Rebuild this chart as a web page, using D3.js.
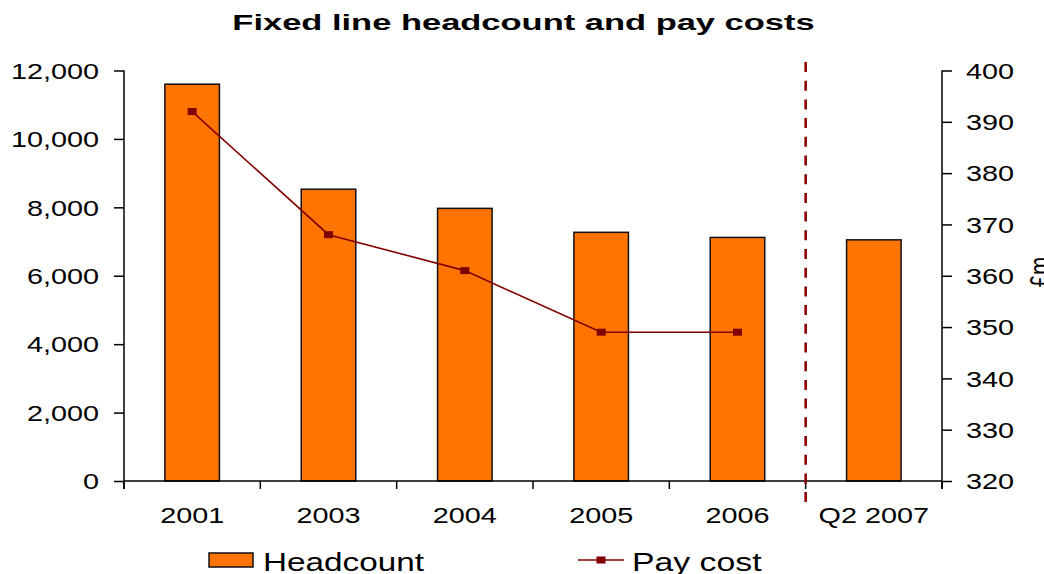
<!DOCTYPE html>
<html>
<head>
<meta charset="utf-8">
<script src="https://cdn.jsdelivr.net/npm/d3@7"></script>
<style>
  html, body { margin: 0; padding: 0; background: #fff; }
  svg { display: block; font-family: "Liberation Sans", Arial, sans-serif; }
</style>
</head>
<body>
<svg id="chart" width="1044" height="574"></svg>
<script>
// Chart data
const categories = ["2001", "2003", "2004", "2005", "2006", "Q2 2007"];
const headcount = [11600, 8530, 7970, 7270, 7120, 7050];
const payCost = [392, 368, 361, 349, 349, null];
const leftTicks = [0, 2000, 4000, 6000, 8000, 10000, 12000];
const rightTicks = [320, 330, 340, 350, 360, 370, 380, 390, 400];

const svg = d3.select("#chart");
const plot = { left: 124, right: 942, top: 70.5, bottom: 481 };

const BAR_COLOR = "#FF7300";
const LINE_COLOR = "#800000";
const WIDE = 1.31; // horizontal stretch applied to lettering

const x = d3.scaleBand().domain(categories).range([plot.left, plot.right]).padding(0);
const yL = d3.scaleLinear().domain([0, 12000]).range([plot.bottom, plot.top]);
const yR = d3.scaleLinear().domain([320, 400]).range([plot.bottom, plot.top]);
const barW = x.bandwidth() * 0.4;

// Stretched text helper
function label(g, txt, tx, ty, size, anchor, sx, weight) {
  return g.append("text")
    .attr("transform", `translate(${tx},${ty}) scale(${sx},1)`)
    .attr("text-anchor", anchor)
    .attr("font-size", size)
    .attr("font-weight", weight || "normal")
    .attr("fill", "#000")
    .text(txt);
}

// Title
label(svg, "Fixed line headcount and pay costs", 523.5, 29.5, 23, "middle", 1.5, "bold");

// Bars
svg.append("g").selectAll("rect")
  .data(categories.map((c, i) => ({ c, v: headcount[i] })))
  .join("rect")
  .attr("x", d => x(d.c) + (x.bandwidth() - barW) / 2)
  .attr("y", d => yL(d.v))
  .attr("width", barW)
  .attr("height", d => yL(0) - yL(d.v))
  .attr("fill", BAR_COLOR)
  .attr("stroke", "#111")
  .attr("stroke-width", 1.5);

// Left axis
const axL = svg.append("g").attr("transform", `translate(${plot.left},0)`)
  .call(d3.axisLeft(yL).tickValues(leftTicks).tickSize(10).tickFormat(d3.format(",")));
axL.select(".domain").remove();
axL.selectAll(".tick line").attr("stroke", "#000").attr("stroke-width", 1.5);
axL.selectAll(".tick text").each(function () {
  d3.select(this).attr("x", null).attr("dy", null)
    .attr("transform", `translate(-25,7.8) scale(${WIDE},1)`)
    .attr("font-size", 22).attr("fill", "#000");
});
axL.attr("font-family", null).attr("font-size", null);

// Right axis
const axR = svg.append("g").attr("transform", `translate(${plot.right},0)`)
  .call(d3.axisRight(yR).tickValues(rightTicks).tickSize(10));
axR.select(".domain").remove();
axR.selectAll(".tick line").attr("stroke", "#000").attr("stroke-width", 1.5);
axR.selectAll(".tick text").each(function () {
  d3.select(this).attr("x", null).attr("dy", null)
    .attr("transform", `translate(24,7.8) scale(${WIDE},1)`)
    .attr("font-size", 22).attr("fill", "#000");
});
axR.attr("font-family", null).attr("font-size", null);

// Axis spines
const spines = svg.append("g").attr("stroke", "#000").attr("stroke-width", 1.5);
spines.append("line").attr("x1", plot.left).attr("x2", plot.left).attr("y1", yL(12000)).attr("y2", plot.bottom + 8);
spines.append("line").attr("x1", plot.right).attr("x2", plot.right).attr("y1", yR(400)).attr("y2", plot.bottom + 8);
spines.append("line").attr("x1", plot.left).attr("x2", plot.right).attr("y1", plot.bottom).attr("y2", plot.bottom);

// Category boundary ticks and labels
const bounds = categories.map(c => x(c)).concat([plot.right]);
spines.selectAll("line.cat").data(bounds).join("line").attr("class", "cat")
  .attr("x1", d => d).attr("x2", d => d)
  .attr("y1", plot.bottom).attr("y2", plot.bottom + 8);
const xl = svg.append("g");
categories.forEach(c => label(xl, c, x(c) + x.bandwidth() / 2, 523, 22, "middle", WIDE));

// Right axis unit label
label(svg, "£m", 0, 0, 22, "middle", 1, "normal")
  .attr("transform", `translate(1050,272) rotate(-90) scale(1,${WIDE})`);

// Divider between full years and the quarter
const divX = x("Q2 2007");
svg.append("line")
  .attr("x1", divX).attr("x2", divX).attr("y1", 62).attr("y2", 503)
  .attr("stroke", "#8B0000").attr("stroke-width", 2.6)
  .attr("stroke-dasharray", "10,8.7");

// Pay cost line
const pts = categories.map((c, i) => ({ c, v: payCost[i] })).filter(d => d.v != null);
const line = d3.line().x(d => x(d.c) + x.bandwidth() / 2).y(d => yR(d.v));
svg.append("path").datum(pts).attr("d", line)
  .attr("fill", "none").attr("stroke", LINE_COLOR).attr("stroke-width", 1.6);
svg.append("g").selectAll("rect").data(pts).join("rect")
  .attr("x", d => x(d.c) + x.bandwidth() / 2 - 4.5)
  .attr("y", d => yR(d.v) - 3.5)
  .attr("width", 9).attr("height", 7)
  .attr("fill", LINE_COLOR);

// Legend
const lg = svg.append("g");
lg.append("rect").attr("x", 209).attr("y", 553).attr("width", 44).attr("height", 14)
  .attr("fill", BAR_COLOR).attr("stroke", "#111").attr("stroke-width", 1.5);
label(lg, "Headcount", 263, 571, 26, "start", 1.28);
lg.append("line").attr("x1", 578).attr("x2", 624).attr("y1", 560).attr("y2", 560)
  .attr("stroke", LINE_COLOR).attr("stroke-width", 1.6);
lg.append("rect").attr("x", 596.5).attr("y", 556.5).attr("width", 9).attr("height", 7).attr("fill", LINE_COLOR);
label(lg, "Pay cost", 632, 571, 26, "start", 1.3);
</script>
</body>
</html>
